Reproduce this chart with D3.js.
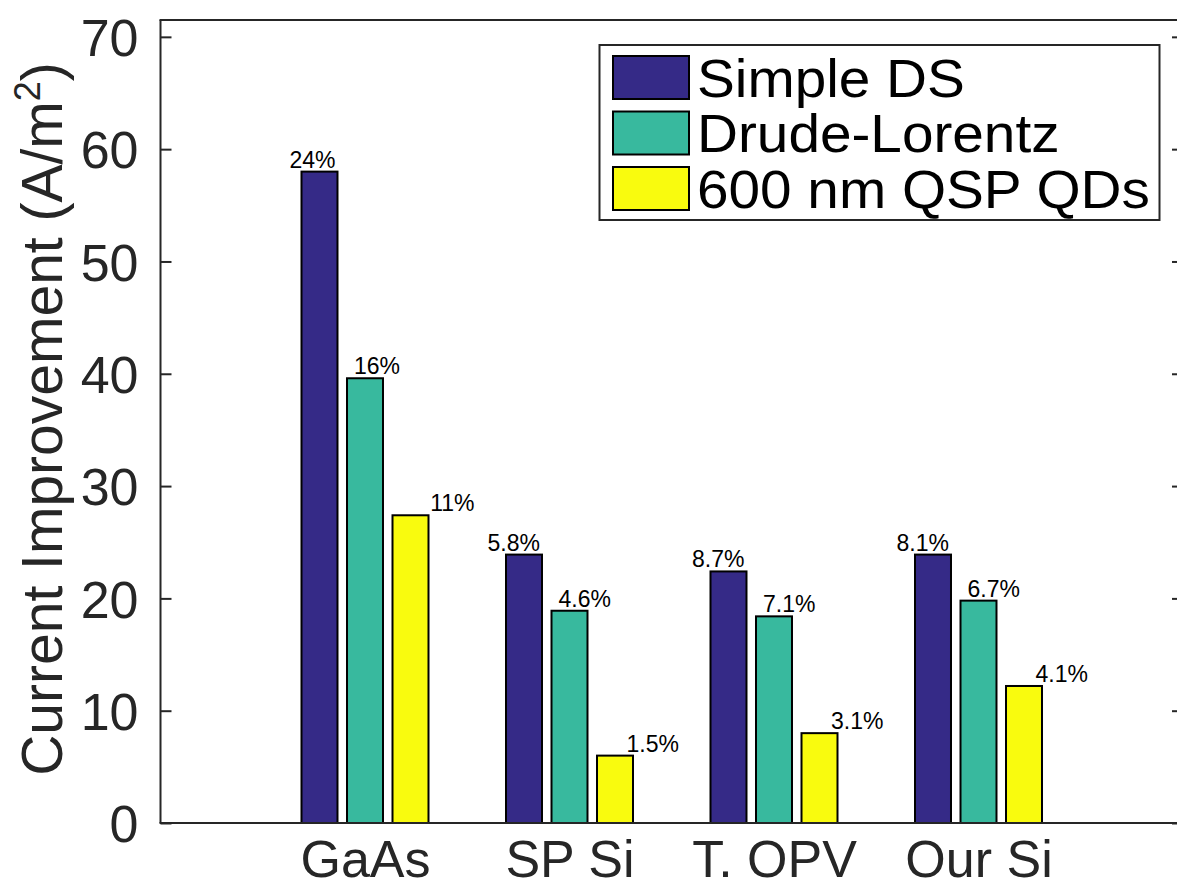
<!DOCTYPE html>
<html>
<head>
  <meta charset="utf-8" />
  <title>Current Improvement</title>
  <style type="text/css">
    body { margin: 0; background: #fff; }
    svg text { font-family: 'Liberation Sans', Arial, Helvetica, sans-serif; }
  </style>
</head>
<body>
  <div id="chart"></div>

  <script src="https://cdn.jsdelivr.net/npm/d3@7"></script>
  <script>
  // data
  var categories = ['GaAs', 'SP Si', 'T. OPV', 'Our Si'];
  var seriesNames = ['Simple DS', 'Drude-Lorentz', '600 nm QSP QDs'];
  var simpleDS = [58.0, 23.9, 22.4, 23.9];
  var drudeLorentz = [39.6, 18.9, 18.4, 19.8];
  var qspQDs = [27.4, 6.0, 8.0, 12.2];
  var simpleDSPct = ['24%', '5.8%', '8.7%', '8.1%'];
  var drudeLorentzPct = ['16%', '4.6%', '7.1%', '6.7%'];
  var qspQDsPct = ['11%', '1.5%', '3.1%', '4.1%'];
  var yTicks = [0, 10, 20, 30, 40, 50, 60, 70];

  var colors = ['#352a87', '#38b99e', '#f9fb0e'];
  var axisColor = '#262626';

  var width = 1177, height = 888;
  var plot = {left: 160.5, right: 1183, top: 20, bottom: 823};

  var svg = d3.select('#chart').append('svg')
    .attr('width', width)
    .attr('height', height);

  var x = d3.scaleLinear().domain([0, 5]).range([plot.left, plot.right]);
  var y = d3.scaleLinear().domain([0, 71.5]).range([plot.bottom, plot.top]);

  var series = [
    {name: seriesNames[0], values: simpleDS, pct: simpleDSPct},
    {name: seriesNames[1], values: drudeLorentz, pct: drudeLorentzPct},
    {name: seriesNames[2], values: qspQDs, pct: qspQDsPct}
  ];

  var barStep = 0.2225, barWidth = 0.176;

  // bars
  series.forEach(function (s, si) {
    var off = (si - 1) * barStep;
    svg.append('g').selectAll('rect')
      .data(s.values)
      .enter()
      .append('rect')
      .attr('x', function (d, i) { return x(i + 1 + off - barWidth / 2); })
      .attr('width', x(barWidth) - x(0))
      .attr('y', function (d) { return y(d); })
      .attr('height', function (d) { return y(0) - y(d); })
      .attr('fill', colors[si])
      .attr('stroke', '#000')
      .attr('stroke-width', 2);

    // percentage labels
    svg.append('g').selectAll('text')
      .data(s.values)
      .enter()
      .append('text')
      .attr('x', function (d, i) {
        var left = x(i + 1 + off - barWidth / 2), right = x(i + 1 + off + barWidth / 2);
        if (si === 0) return right - 2;
        if (si === 1) return left + 7;
        return right + 46;
      })
      .attr('y', function (d) { return y(d) - 4; })
      .attr('text-anchor', si === 1 ? 'start' : 'end')
      .attr('font-size', 23)
      .attr('fill', '#000')
      .text(function (d, i) { return s.pct[i]; });
  });

  // axes box
  var axes = svg.append('g').attr('stroke', axisColor).attr('stroke-width', 2).attr('fill', 'none');
  axes.append('line').attr('x1', plot.left).attr('x2', plot.left).attr('y1', plot.top).attr('y2', plot.bottom);
  axes.append('line').attr('x1', plot.right).attr('x2', plot.right).attr('y1', plot.top).attr('y2', plot.bottom);
  axes.append('line').attr('x1', plot.left - 1).attr('x2', plot.right).attr('y1', plot.bottom).attr('y2', plot.bottom);
  axes.append('line').attr('x1', plot.left - 1).attr('x2', plot.right).attr('y1', plot.top).attr('y2', plot.top);

  // y axis (ticks inward on both sides)
  var yAxisL = svg.append('g')
    .attr('transform', 'translate(' + plot.left + ',0)')
    .call(d3.axisLeft(y).tickValues(yTicks).tickSize(-11).tickPadding(22).tickFormat(d3.format('d')));
  var yAxisR = svg.append('g')
    .attr('transform', 'translate(' + plot.right + ',0)')
    .call(d3.axisRight(y).tickValues(yTicks).tickSize(-11).tickFormat(''));
  [yAxisL, yAxisR].forEach(function (g) {
    g.select('.domain').remove();
    g.selectAll('.tick line').attr('stroke', axisColor).attr('stroke-width', 2);
  });
  yAxisL.selectAll('.tick text')
    .attr('font-size', 52)
    .attr('fill', axisColor)
    .attr('dy', '0.36em');

  // x axis labels
  var xAxis = svg.append('g')
    .attr('transform', 'translate(0,' + plot.bottom + ')')
    .call(d3.axisBottom(x).tickValues([1, 2, 3, 4]).tickSize(0).tickPadding(17)
      .tickFormat(function (d) { return categories[d - 1]; }));
  xAxis.select('.domain').remove();
  xAxis.selectAll('.tick text')
    .attr('font-size', 52)
    .attr('fill', axisColor)
    .attr('dy', '0.71em');

  // y label
  var ylab = svg.append('text')
    .attr('transform', 'translate(62,419) rotate(-90)')
    .attr('text-anchor', 'middle')
    .attr('font-size', 57)
    .attr('fill', axisColor);
  ylab.append('tspan').text('Current Improvement (A/m');
  ylab.append('tspan').attr('font-size', 36).attr('dy', -22).text('2');
  ylab.append('tspan').attr('dy', 22).text(')');

  // legend
  var leg = svg.append('g');
  leg.append('rect')
    .attr('x', 599.5).attr('y', 45)
    .attr('width', 560).attr('height', 175)
    .attr('fill', '#fff')
    .attr('stroke', axisColor)
    .attr('stroke-width', 2);
  var rowY = d3.scaleLinear().domain([0, 2]).range([56, 167]);
  var items = leg.selectAll('g.item')
    .data(series)
    .enter()
    .append('g')
    .attr('class', 'item')
    .attr('transform', function (d, i) { return 'translate(613,' + rowY(i) + ')'; });
  items.append('rect')
    .attr('width', 76).attr('height', 43)
    .attr('fill', function (d, i) { return colors[i]; })
    .attr('stroke', '#000')
    .attr('stroke-width', 2);
  items.append('text')
    .attr('x', 84)
    .attr('y', 21.5)
    .attr('dy', '0.36em')
    .attr('font-size', 53)
    .attr('fill', '#000')
    .text(function (d) { return d.name; })
    .each(function () {
      // the figure's legend type is a little wider than the font at this height
      var w = this.getComputedTextLength();
      d3.select(this).attr('textLength', w * 1.07).attr('lengthAdjust', 'spacingAndGlyphs');
    });
  </script>
</body>
</html>
